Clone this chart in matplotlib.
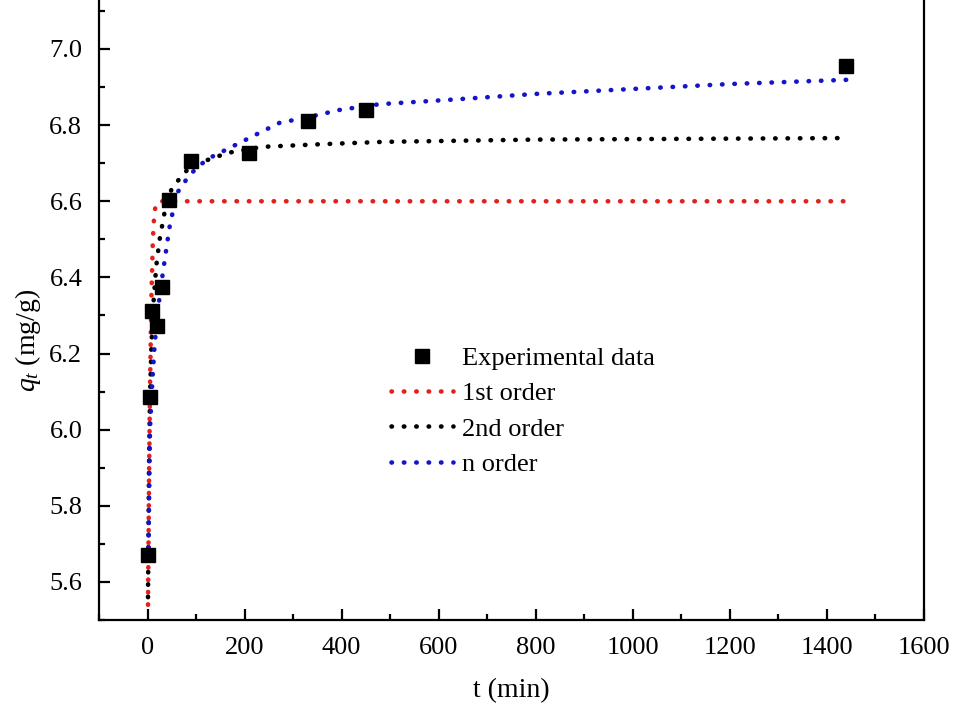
import matplotlib
matplotlib.use("Agg")
import matplotlib.pyplot as plt
from matplotlib.ticker import MultipleLocator

plt.rcParams['font.family'] = ['Liberation Serif', 'DejaVu Serif']
plt.rcParams['mathtext.fontset'] = 'custom'
plt.rcParams['mathtext.rm'] = 'Liberation Serif'
plt.rcParams['mathtext.it'] = 'Liberation Serif:italic'

# experimental points
t_exp = [2, 5, 10, 20, 30, 45, 90, 210, 330, 450, 1440]
q_exp = [5.671, 6.086, 6.312, 6.272, 6.375, 6.603, 6.706, 6.727, 6.811, 6.840, 6.955]

# fitted curves, points
t_first = [1, 3, 5, 8, 11, 14, 18, 25, 60, 400, 1440]
q_first = [5.54, 5.85, 6.10, 6.35, 6.50, 6.57, 6.595, 6.60, 6.60, 6.60, 6.60]

t_second = [1, 3, 5, 8, 12, 18, 25, 35, 49, 60, 87, 118, 165, 237, 361, 485, 800, 1440]
q_second = [5.56, 5.90, 6.08, 6.22, 6.33, 6.43, 6.50, 6.57, 6.63, 6.65, 6.69, 6.706,
            6.727, 6.743, 6.750, 6.756, 6.762, 6.766]

t_n = [2, 5, 10, 14, 20, 28, 45, 60, 87, 122, 169, 231, 272, 328, 396, 478, 616, 800, 1000, 1200, 1440]
q_n = [5.69, 6.00, 6.13, 6.21, 6.30, 6.38, 6.53, 6.62, 6.67, 6.71, 6.74, 6.78, 6.806,
       6.82, 6.84, 6.855, 6.866, 6.882, 6.895, 6.908, 6.919]

fig = plt.figure(figsize=(9.57, 7.15), dpi=100)
ax = fig.add_axes([99 / 957, 1 - 620 / 715, 825 / 957, 620.5 / 715])

dots = (0, (0.1, 2.6))
ax.plot(t_exp, q_exp, 's', color='black', ms=9.5, label='Experimental data', zorder=5)
ax.plot(t_first, q_first, color='#e3201c', lw=3.3, ls=dots, dash_capstyle='round', label='1st order')
ax.plot(t_second, q_second, color='black', lw=3.3, ls=dots, dash_capstyle='round', label='2nd order')
ax.plot(t_n, q_n, color='#1414c8', lw=3.3, ls=dots, dash_capstyle='round', label='n order')

ax.set_xlim(-100, 1600)
ax.set_ylim(5.5, 7.13)
ax.xaxis.set_major_locator(MultipleLocator(200))
ax.xaxis.set_minor_locator(MultipleLocator(100))
ax.yaxis.set_major_locator(MultipleLocator(0.2))
ax.yaxis.set_minor_locator(MultipleLocator(0.1))
ax.yaxis.set_major_formatter(plt.FormatStrFormatter('%.1f'))

ax.spines['top'].set_visible(False)
for s in ['left', 'bottom', 'right']:
    ax.spines[s].set_linewidth(1.6)
ax.tick_params(which='both', direction='in', width=1.6, labelsize=19, top=False, right=False)
ax.tick_params(which='major', length=8, pad=12)
ax.tick_params(which='minor', length=4.5)

ax.set_xlabel('t (min)', fontsize=20, labelpad=14)
ax.set_ylabel('$q_t$ (mg/g)', fontsize=20)
ax.yaxis.set_label_coords(-0.068, 0.45)

ax.legend(loc='upper left', bbox_to_anchor=(380 / 957, 1 - 336 / 715), bbox_transform=fig.transFigure,
          frameon=False, fontsize=19, handlelength=2.35, handletextpad=0.35, labelspacing=0.45,
          borderaxespad=0)

fig.savefig('out.png', dpi=100)
